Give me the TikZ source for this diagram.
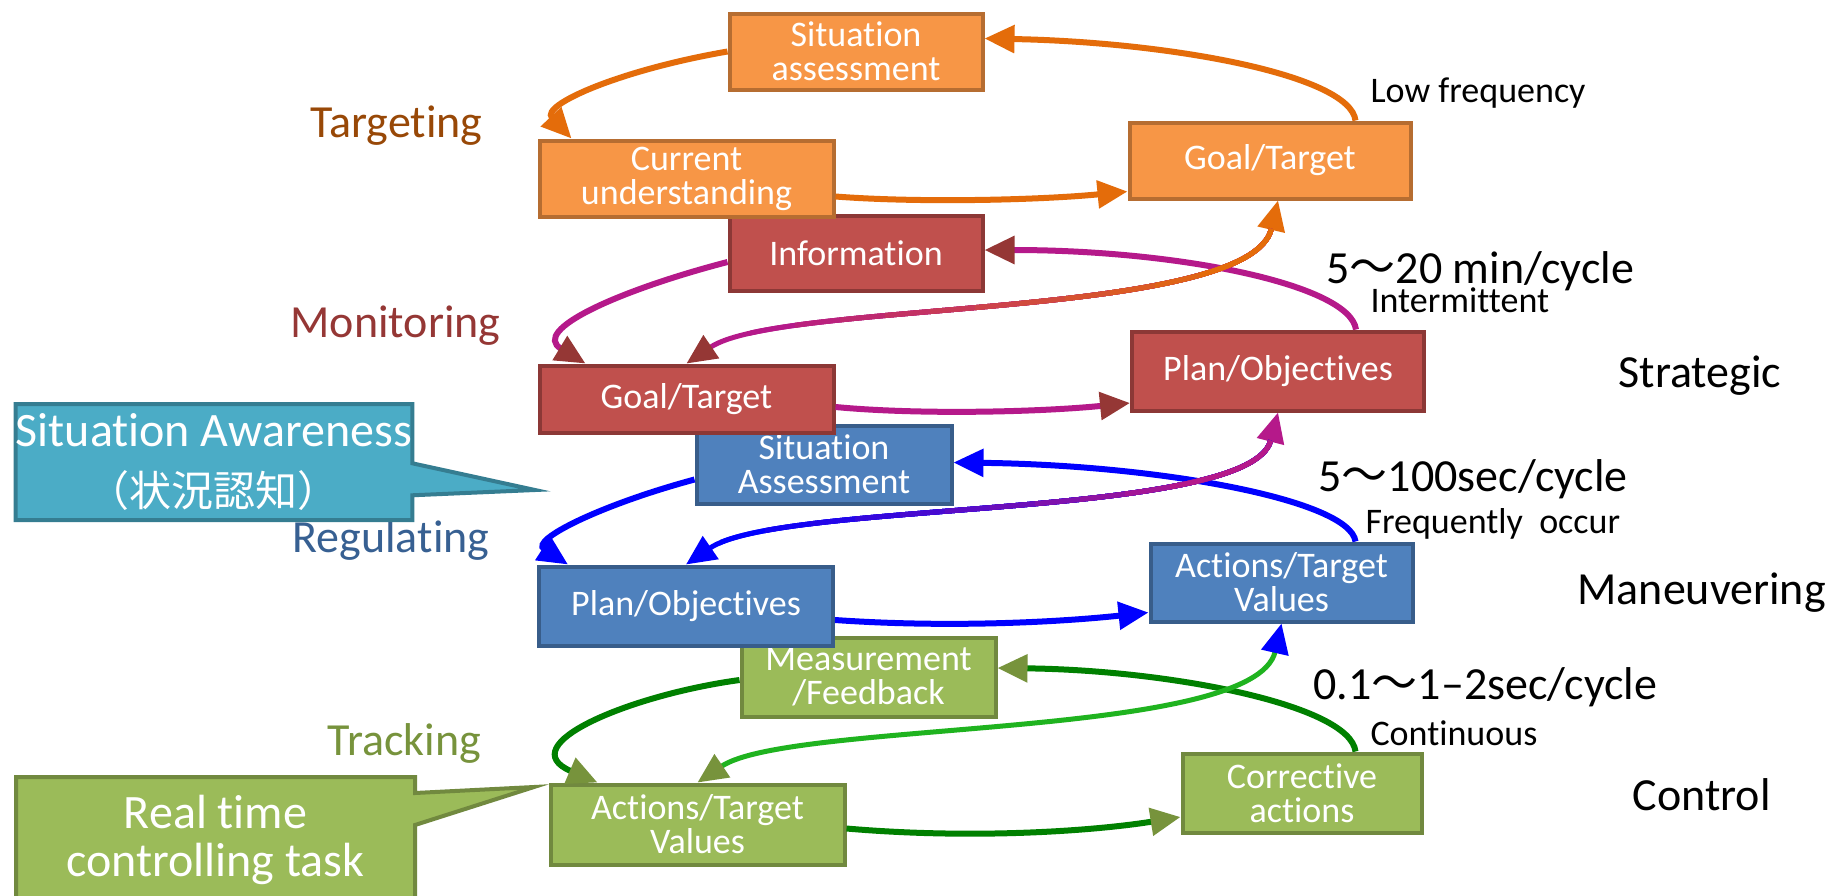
\documentclass[tikz,border=0pt]{standalone}
\usepackage{fontspec}
\setmainfont[Ligatures={TeX,NoCommon}]{Carlito}
\newfontfamily\cjk{Noto Sans CJK JP}
\usetikzlibrary{arrows.meta,shapes.callouts}

\definecolor{orfill}{HTML}{F79646}
\definecolor{ordraw}{HTML}{B66D31}
\definecolor{orline}{HTML}{E46C0A}
\definecolor{rdfill}{HTML}{C0504D}
\definecolor{rddraw}{HTML}{8C3836}
\definecolor{rdhead}{HTML}{953735}
\definecolor{mgline}{HTML}{B5198A}
\definecolor{blfill}{HTML}{4F81BD}
\definecolor{bldraw}{HTML}{385D8A}
\definecolor{blline}{HTML}{0000FF}
\definecolor{grfill}{HTML}{9BBB59}
\definecolor{grdraw}{HTML}{71893F}
\definecolor{grhead}{HTML}{77933C}
\definecolor{grline}{HTML}{008000}
\definecolor{ltgreen}{HTML}{1FB31F}
\definecolor{tlfill}{HTML}{4BACC6}
\definecolor{tldraw}{HTML}{357D91}
\definecolor{tgtext}{HTML}{984807}
\definecolor{mntext}{HTML}{953735}
\definecolor{rgtext}{HTML}{376092}

\tikzset{
  OrTip/.tip={Triangle[length=30pt,width=27pt,color=orline]},
  RdTip/.tip={Triangle[length=30pt,width=27pt,color=rdhead]},
  MgTip/.tip={Triangle[length=30pt,width=27pt,color=mgline]},
  BlTip/.tip={Triangle[length=30pt,width=27pt,color=blline]},
  GrTip/.tip={Triangle[length=30pt,width=27pt,color=grhead]},
  lvl/.style={rectangle, line width=4pt, text=white, align=center, inner sep=0pt,
    font=\fontsize{36}{34}\selectfont},
  orbox/.style={lvl, fill=orfill, draw=ordraw},
  rdbox/.style={lvl, fill=rdfill, draw=rddraw},
  blbox/.style={lvl, fill=blfill, draw=bldraw},
  grbox/.style={lvl, fill=grfill, draw=grdraw},
  loopline/.style={line width=6pt},
  sline/.style={line width=5pt},
  lvlname/.style={anchor=base west, font=\fontsize{46}{46}\selectfont},
  rate/.style={anchor=base west, font=\fontsize{46}{46}\selectfont},
  mode/.style={anchor=base west, font=\fontsize{36}{36}\selectfont},
  callbox/.style={rectangle callout, line width=4pt, text=white, align=center,
    inner sep=0pt, callout pointer width=32pt}
}

\begin{document}
\begin{tikzpicture}[x=1pt,y=-1pt]
\useasboundingbox (0,0) rectangle (1847,895);
\fill[white] (0,0) rectangle (1847,895);

% boxes, lowest level first
\node[grbox, minimum width=254pt, minimum height=79pt] (mf4) at (868.5,677) {Measurement\\/Feedback};
\node[grbox, minimum width=294pt, minimum height=80pt] (av4) at (697.5,824.5) {Actions/Target\\Values};
\node[grbox, minimum width=239pt, minimum height=79pt] (ca4) at (1302,793) {Corrective\\actions};
\node[blbox, minimum width=255pt, minimum height=78pt] (sa3) at (824,464.5) {Situation\\Assessment};
\node[blbox, minimum width=294pt, minimum height=79pt] (po3) at (686,606) {Plan/Objectives};
\node[blbox, minimum width=262pt, minimum height=78pt] (av3) at (1281.5,582.5) {Actions/Target\\Values};
\node[rdbox, minimum width=253pt, minimum height=75pt] (in2) at (856,253) {Information};
\node[rdbox, minimum width=294pt, minimum height=67pt] (gt2) at (686.5,399) {Goal/Target};
\node[rdbox, minimum width=292pt, minimum height=79pt] (po2) at (1278,371) {Plan/Objectives};
\node[orbox, minimum width=253pt, minimum height=76pt] (sa1) at (856,51.5) {Situation\\assessment};
\node[orbox, minimum width=294pt, minimum height=76pt] (cu1) at (686.5,178.5) {Current\\understanding};
\node[orbox, minimum width=281pt, minimum height=76pt] (gt1) at (1270,160.5) {Goal/Target};

% Targeting loop
\draw[loopline, orline, -OrTip] (sa1.west) .. controls (620,70) and (540,105) .. ([xshift=34pt]cu1.north west);
\draw[loopline, orline, -OrTip] ([yshift=-18pt]cu1.east) .. controls (920,203) and (1040,200) .. ([yshift=-31pt]gt1.west);
\draw[loopline, orline, -OrTip] ([xshift=-57pt]gt1.north east) .. controls (1350,75) and (1170,42) .. ([yshift=13pt]sa1.east);

% Monitoring loop
\draw[loopline, mgline, -RdTip] ([yshift=-9pt]in2.west) .. controls (620,290) and (530,330) .. ([xshift=48pt]gt2.north west);
\draw[loopline, mgline, -RdTip] ([yshift=-8pt]gt2.east) .. controls (920,415) and (1040,412) .. ([yshift=-32pt]po2.west);
\draw[loopline, mgline, -RdTip] ([xshift=-70pt]po2.north east) .. controls (1350,285) and (1180,250) .. ([yshift=3pt]in2.east);

% Regulating loop
\draw[loopline, blline, -BlTip] ([yshift=-15pt]sa3.west) .. controls (600,505) and (530,540) .. ([xshift=31pt]po3.north west);
\draw[loopline, blline, -BlTip] ([yshift=-14pt]po3.east) .. controls (950,628) and (1060,622) .. ([yshift=-30pt]av3.west);
\draw[loopline, blline, -BlTip] ([xshift=-59pt]av3.north east) .. controls (1350,500) and (1160,465) .. ([yshift=2pt]sa3.east);

% Tracking loop
\draw[loopline, grline, -GrTip] ([yshift=-3pt]mf4.west) .. controls (630,695) and (510,745) .. ([xshift=49pt]av4.north west);
\draw[loopline, grline, -GrTip] ([yshift=-4pt]av4.east) .. controls (980,840) and (1100,830) .. ([yshift=-24pt]ca4.west);
\draw[loopline, grline, -GrTip] ([xshift=-68pt]ca4.north east) .. controls (1350,705) and (1170,670) .. ([yshift=9pt]mf4.east);

% links between levels
\draw[sline, mgline, RdTip-OrTip] (gt2.north) .. controls (780,300) and (1250,320) .. ([xshift=8pt]gt1.south);
\foreach \i in {0,...,10}{
  \pgfmathtruncatemacro\pct{100-10*\i}
  \begin{scope}
    \clip (750+45*\i,0) rectangle (1847,895);
    \draw[sline, shorten <=29pt, shorten >=29pt, mgline!\pct!orline] (gt2.north) .. controls (780,300) and (1250,320) .. ([xshift=8pt]gt1.south);
  \end{scope}
}
\draw[sline, blline, BlTip-MgTip] (po3.north) .. controls (780,500) and (1250,520) .. (po2.south);
\foreach \i in {0,...,10}{
  \pgfmathtruncatemacro\pct{100-10*\i}
  \begin{scope}
    \clip (720+45*\i,0) rectangle (1847,895);
    \draw[sline, shorten <=29pt, shorten >=29pt, blline!\pct!mgline] (po3.north) .. controls (780,500) and (1250,520) .. (po2.south);
  \end{scope}
}
\draw[sline, ltgreen, GrTip-BlTip] (av4.north) .. controls (790,720) and (1255,740) .. (av3.south);

% level names
\node[lvlname, text=tgtext] (tg) at (307,137) {Targeting};
\node[lvlname, text=mntext] (mn) at (287,337) {Monitoring};
\node[lvlname, text=rgtext] (rg) at (289,552) {Regulating};
\node[lvlname, text=grhead] (tr) at (324,755) {Tracking};

% rates and modes
\node[mode] (lf) at (1367,102) {Low frequency};
\node[rate] (r1) at (1323,283) {5{\cjk ～}20 min/cycle};
\node[mode] (im) at (1367,312) {Intermittent};
\node[rate] (st) at (1615,387) {Strategic};
\node[rate] (r2) at (1315,491) {5{\cjk ～}100sec/cycle};
\node[mode] (fo) at (1362,533) {Frequently\ \ occur};
\node[rate] (mv) at (1574,604) {Maneuvering};
\node[rate] (r3) at (1310,699) {0.1{\cjk ～}1–2sec/cycle};
\node[mode] (cn) at (1367,745) {Continuous};
\node[rate] (ct) at (1629,810) {Control};

% callouts
\node[callbox, fill=tlfill, draw=tldraw, minimum width=396pt, minimum height=116pt,
  callout absolute pointer={(535,490)}, font=\fontsize{48}{60}\selectfont] (sacall) at (214,462)
  {Situation Awareness\\{\cjk\fontsize{42}{60}\selectfont （状況認知）}};
\node[callbox, fill=grfill, draw=grdraw, minimum width=399pt, minimum height=126pt,
  callout absolute pointer={(534,787)}, font=\fontsize{48}{48}\selectfont] (rtcall) at (215.5,840)
  {Real time\\controlling task};
\end{tikzpicture}
\end{document}
